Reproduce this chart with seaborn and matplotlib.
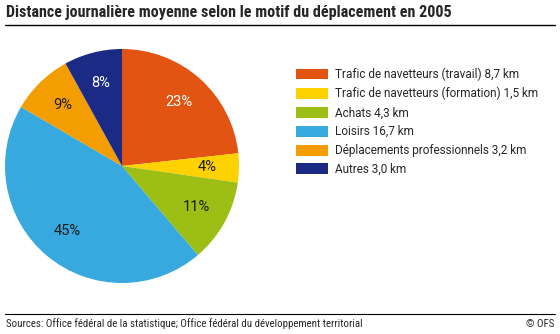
import matplotlib
matplotlib.use("Agg")
import matplotlib.pyplot as plt
import seaborn as sns
import numpy as np
from matplotlib.patches import Patch
from matplotlib.lines import Line2D

categories = ["Trafic de navetteurs (travail)", "Trafic de navetteurs (formation)",
              "Achats", "Loisirs", "Déplacements professionnels", "Autres"]
distances = [8.7, 1.5, 4.3, 16.7, 3.2, 3.0]
pct_labels = ["23%", "4%", "11%", "45%", "9%", "8%"]
colors = ["#E35413", "#FDD200", "#9DBE14", "#38A9DE", "#F39D00", "#1B2A84"]
label_colors = ["white", "#1a1a1a", "#1a1a1a", "#1a1a1a", "#1a1a1a", "white"]
title = "Distance journalière moyenne selon le motif du déplacement en 2005"
source = "Sources: Office fédéral de la statistique; Office fédéral du développement territorial"
credit = "© OFS"

sns.set_theme(style="white")
COND = ['Roboto Condensed', 'Liberation Sans', 'DejaVu Sans']
REG = ['Roboto', 'Liberation Sans', 'DejaVu Sans']
plt.rcParams['font.family'] = COND

fig = plt.figure(figsize=(5.6, 3.34), dpi=100)
fig.patch.set_facecolor("white")

ax = fig.add_axes([5/560, (334-166-117)/334, 234/560, 234/334])
wedges, texts = ax.pie(distances, colors=colors, startangle=90, counterclock=False,
                       radius=1, wedgeprops=dict(linewidth=0))
ax.set_xlim(-1, 1)
ax.set_ylim(-1, 1)
ax.set_aspect("equal")
for w, lab, c in zip(wedges, pct_labels, label_colors):
    ang = np.deg2rad((w.theta1 + w.theta2) / 2)
    ax.text(0.73*np.cos(ang), 0.73*np.sin(ang), lab, ha="center", va="center",
            color=c, fontsize=10.5, family=REG)

handles = [Patch(facecolor=c, edgecolor="none") for c in colors]
labels = [f"{cat} {str(v).replace('.', ',')} km" for cat, v in zip(categories, distances)]
fig.legend(handles, labels, loc="upper left", bbox_to_anchor=(285/560, 1-57/334),
           frameon=False, handlelength=2.7, handleheight=1.05, handletextpad=0.6,
           labelspacing=0.5, prop={'family': REG, 'size': 8.5})

fig.text(6/560, 1-13/334, title, fontsize=11.6, fontweight="bold", va="center", ha="left")
fig.add_artist(Line2D([5/560, 555/560], [1-25/334, 1-25/334], color="black", lw=1))
fig.add_artist(Line2D([5/560, 555/560], [1-314/334, 1-314/334], color="black", lw=0.8))
fig.text(6/560, 1-324/334, source, fontsize=7.8, va="center", ha="left")
fig.text(554/560, 1-324/334, credit, fontsize=7.8, va="center", ha="right")

fig.savefig("out.png", dpi=100, facecolor="white")
